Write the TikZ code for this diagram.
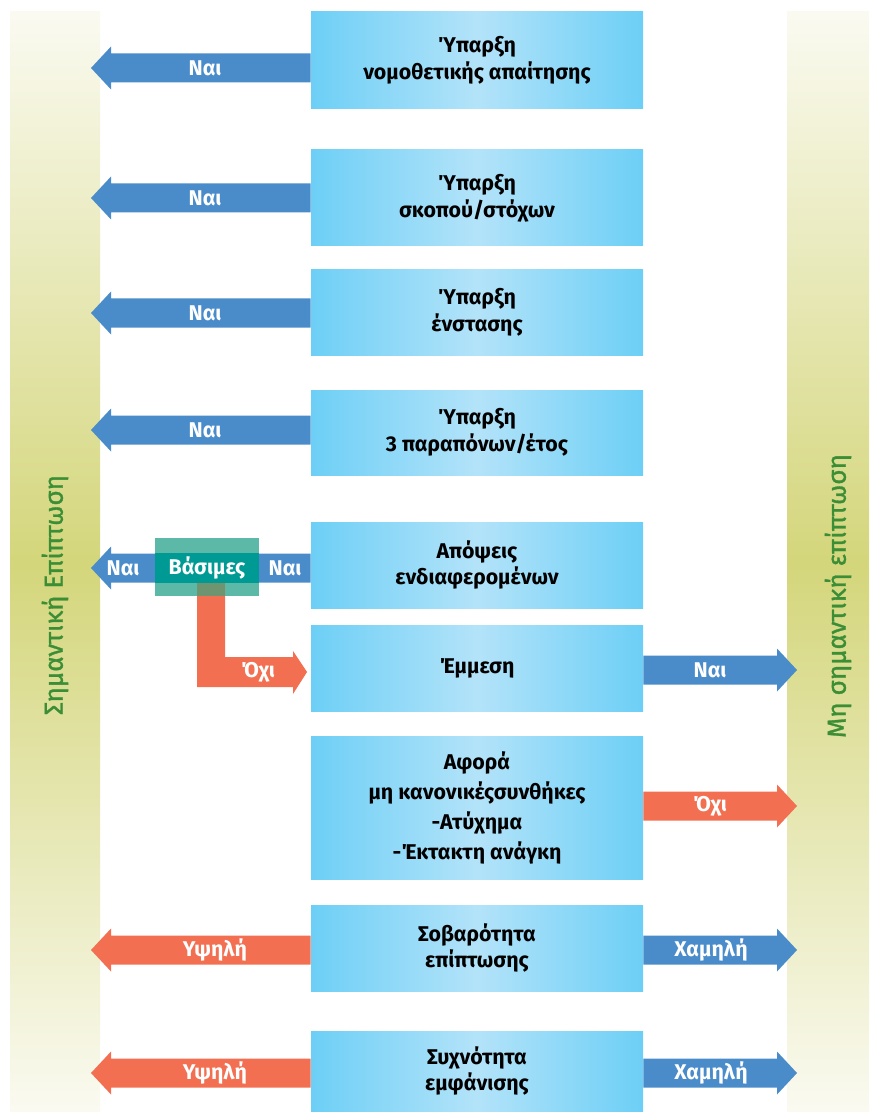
\documentclass[tikz,border=0pt]{standalone}
\usepackage{fontspec}
\setmainfont{Fira Sans}
\newfontfamily\sidefont{Fira Sans}[FakeBold=1.2]
\usetikzlibrary{calc}
\definecolor{barmid}{HTML}{D4D67B}
\definecolor{barend}{HTML}{FAFAF1}
\definecolor{boxedge}{HTML}{6DCFF6}
\definecolor{boxmid}{HTML}{B3E3F9}
\definecolor{nai}{HTML}{4A8CCA}
\definecolor{ochi}{HTML}{F26F51}
\definecolor{tealout}{HTML}{5CB9A8}
\definecolor{tealin}{HTML}{009A94}
\definecolor{overlap}{HTML}{6E9470}
\definecolor{sidegreen}{HTML}{3B8E35}
\begin{document}
\begin{tikzpicture}[x = 0.75pt, y = -0.75pt,
    bar/.style = {minimum height = 825pt, inner sep = 0pt,
      top color = barend, bottom color = barend, middle color = barmid},
    side/.style = {rotate = 90, text = sidegreen, font = \sidefont\fontsize{19.5}{23}\selectfont},
    qbox/.style = {minimum width = 249pt, minimum height = #1*0.75pt, inner sep = 0pt,
      left color = boxedge, right color = boxedge, middle color = boxmid,
      align = center, font = \bfseries\fontsize{16}{20}\selectfont},
    lbl/.style = {text = white, inner sep = 0pt, font = \bfseries\fontsize{16}{19}\selectfont},
    blk/.style = {to path = {($(\tikztostart) + (0,-14.5)$) -- ($(\tikztotarget) + (#1,-14.5)$)
      -- ++(0,-7) -- (\tikztotarget) -- ($(\tikztotarget) + (#1,21.5)$)
      -- ++(0,-7) -- ($(\tikztostart) + (0,14.5)$) -- cycle}}]
  \useasboundingbox (0,0) rectangle (869,1112);
  % side bars
  \node (lbar) [bar, minimum width = 67.5pt] at (55,562) {};
  \node (rbar) [bar, minimum width = 61.5pt] at (828,562) {};
  \node (lside) [side] at (55,595) {Σημαντική Επίπτωση};
  \node (rside) [side] at (838,596) {Μη σημαντική επίπτωση};
  % questions
  \node (q1) [qbox = 97] at (477,60.5) {Ύπαρξη\\νομοθετικής απαίτησης};
  \node (q2) [qbox = 96] at (477,198) {Ύπαρξη\\σκοπού/στόχων};
  \node (q3) [qbox = 85] at (477,312.5) {Ύπαρξη\\ένστασης};
  \node (q4) [qbox = 85] at (477,432.5) {Ύπαρξη\\3 παραπόνων/έτος};
  \node (q5) [qbox = 86] at (477,565) {Απόψεις\\ενδιαφερομένων};
  \node (q6) [qbox = 86] at (477,668) {Έμμεση};
  \node (q7) [qbox = 143, font = \bfseries\fontsize{16}{22.5}\selectfont] at (477,807.5)
    {Αφορά\\μη κανονικέςσυνθήκες\\-Ατύχημα\\-Έκτακτη ανάγκη};
  \node (q8) [qbox = 86] at (477,948) {Σοβαρότητα\\επίπτωσης};
  \node (q9) [qbox = 80] at (477,1071) {Συχνότητα\\εμφάνισης};
  % answers to the left
  \coordinate (t1) at (91,68);
  \fill [nai] (q1.west |- t1) to[blk = 20] (t1);
  \node (n1) [lbl] at (205,68) {Ναι};
  \coordinate (t2) at (91,198);
  \fill [nai] (q2.west |- t2) to[blk = 20] (t2);
  \node (n2) [lbl] at (205,198) {Ναι};
  \coordinate (t3) at (91,313);
  \fill [nai] (q3.west |- t3) to[blk = 20] (t3);
  \node (n3) [lbl] at (205,313) {Ναι};
  \coordinate (t4) at (91,430);
  \fill [nai] (q4.west |- t4) to[blk = 20] (t4);
  \node (n4) [lbl] at (205,430) {Ναι};
  % stakeholders
  \coordinate (t5) at (91,568);
  \fill [nai] (q5.west |- t5) to[blk = 20] (t5);
  \node (vasbg) [fill = tealout, minimum width = 78pt, minimum height = 43.5pt, inner sep = 0pt]
    at (207,567) {};
  \coordinate (o6) at (307,672);
  \fill [ochi] ($(vasbg.south) + (-10,-13)$) |- ($(o6) + (-14,15)$) -- ++(0,7) -- (o6)
    -- ($(o6) + (-14,-21)$) -- ++(0,6) -| ($(vasbg.south) + (18,-13)$) -- cycle;
  \fill [overlap] ($(vasbg.south) + (-10,-13)$) rectangle ($(vasbg.south) + (18,0)$);
  \node (vas) [lbl, fill = tealin, minimum width = 78pt, minimum height = 22.5pt] at (207,568) {Βάσιμες};
  \node (n5a) [lbl] at (123,568) {Ναι};
  \node (n5b) [lbl] at (285,568) {Ναι};
  \node (no6) [lbl] at (258,672) {Όχι};
  % answers to the right
  \coordinate (r6) at (797,670);
  \fill [nai] (q6.east |- r6) to[blk = -20] (r6);
  \node (n6) [lbl] at (710,670) {Ναι};
  \coordinate (r7) at (797,806);
  \fill [ochi] (q7.east |- r7) to[blk = -20] (r7);
  \node (no7) [lbl] at (710,806) {Όχι};
  % severity, frequency
  \coordinate (t8) at (91,950);
  \fill [ochi] (q8.west |- t8) to[blk = 20] (t8);
  \node (h8) [lbl] at (215,950) {Υψηλή};
  \coordinate (r8) at (797,950);
  \fill [nai] (q8.east |- r8) to[blk = -20] (r8);
  \node (l8) [lbl] at (711,950) {Χαμηλή};
  \coordinate (t9) at (91,1073);
  \fill [ochi] (q9.west |- t9) to[blk = 20] (t9);
  \node (h9) [lbl] at (215,1073) {Υψηλή};
  \coordinate (r9) at (797,1073);
  \fill [nai] (q9.east |- r9) to[blk = -20] (r9);
  \node (l9) [lbl] at (711,1073) {Χαμηλή};
\end{tikzpicture}
\end{document}
